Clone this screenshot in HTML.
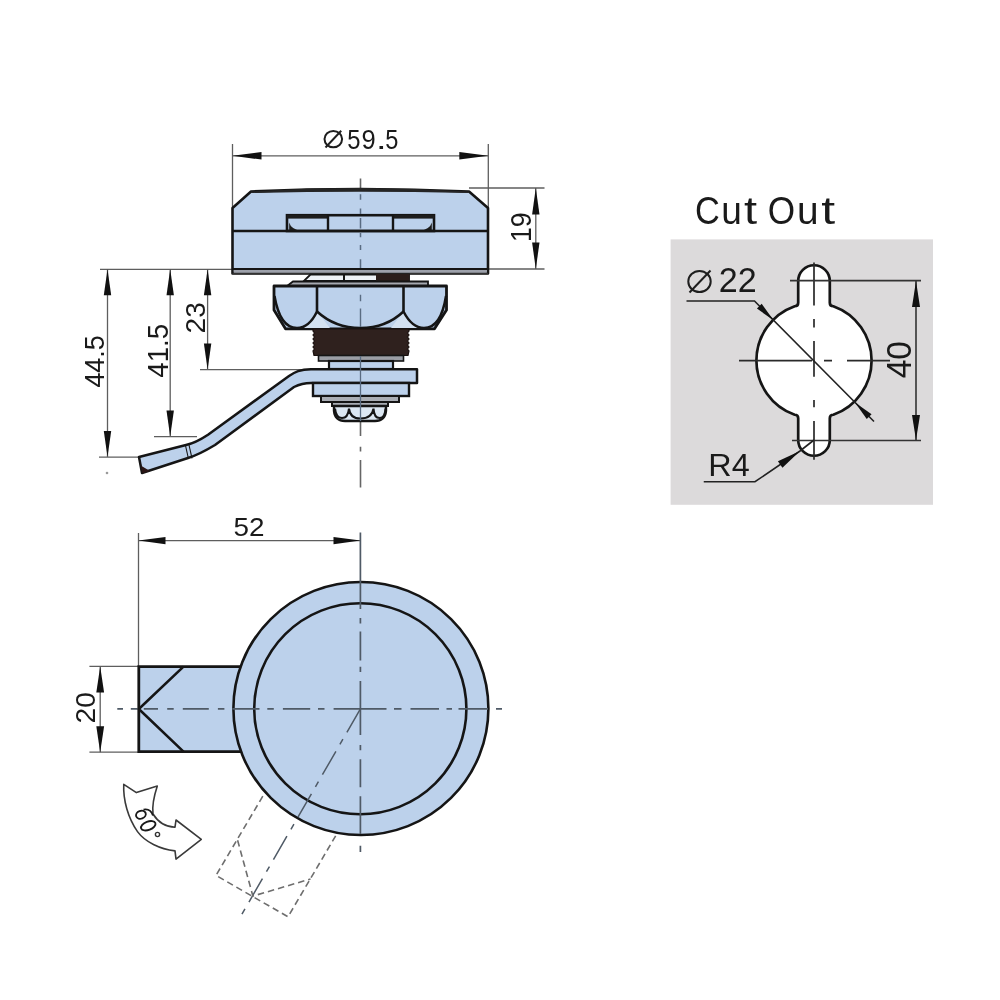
<!DOCTYPE html>
<html><head><meta charset="utf-8"><style>
html,body{margin:0;padding:0;background:#fff;width:1000px;height:1000px;overflow:hidden}
svg{display:block;will-change:transform}
text{font-family:"Liberation Sans", sans-serif}
</style></head><body>
<svg width="1000" height="1000" viewBox="0 0 1000 1000">
<line x1="232.50" y1="144.00" x2="232.50" y2="207.00" stroke="#5e5e5e" stroke-width="1.3" />
<line x1="488.30" y1="144.00" x2="488.30" y2="207.00" stroke="#5e5e5e" stroke-width="1.3" />
<line x1="232.50" y1="155.80" x2="488.00" y2="155.80" stroke="#5e5e5e" stroke-width="1.3" />
<polygon points="232.50,155.80 261.50,152.00 261.50,159.60" fill="#111"/>
<polygon points="488.30,155.80 459.30,159.60 459.30,152.00" fill="#111"/>
<ellipse cx="333.3" cy="139.1" rx="8.8" ry="8.2" fill="none" stroke="#1e1e1e" stroke-width="2.0"/>
<line x1="325.50" y1="147.50" x2="341.20" y2="130.80" stroke="#1e1e1e" stroke-width="2.0" />
<text font-size="100" fill="#1a1a1a" transform="matrix(0.23834,0,0,0.28377,347.3457,148.7229)">5</text>
<text font-size="100" fill="#1a1a1a" transform="matrix(0.25546,0,0,0.28377,361.5025,148.7229)">9</text>
<text font-size="100" fill="#1a1a1a" transform="matrix(0.37809,0,0,0.28377,375.9477,148.7229)">.</text>
<text font-size="100" fill="#1a1a1a" transform="matrix(0.23623,0,0,0.28377,385.2542,148.7229)">5</text>
<line x1="469.00" y1="188.00" x2="544.50" y2="188.00" stroke="#5e5e5e" stroke-width="1.3" />
<line x1="488.00" y1="269.00" x2="544.50" y2="269.00" stroke="#5e5e5e" stroke-width="1.3" />
<line x1="535.80" y1="188.00" x2="535.80" y2="269.00" stroke="#5e5e5e" stroke-width="1.3" />
<polygon points="535.80,188.00 539.50,214.50 532.10,214.50" fill="#111"/>
<polygon points="535.80,269.00 532.10,242.50 539.50,242.50" fill="#111"/>
<text font-size="100" fill="#1a1a1a" transform="matrix(0.00000,-0.26801,0.29661,0.00000,530.71034,242.04148)">19</text>
<line x1="100.00" y1="269.30" x2="232.00" y2="269.30" stroke="#5e5e5e" stroke-width="1.3" />
<line x1="107.50" y1="269.30" x2="107.50" y2="457.00" stroke="#5e5e5e" stroke-width="1.3" />
<polygon points="107.50,269.30 111.20,295.30 103.80,295.30" fill="#111"/>
<polygon points="107.50,457.00 103.80,431.00 111.20,431.00" fill="#111"/>
<line x1="170.20" y1="269.30" x2="170.20" y2="436.50" stroke="#5e5e5e" stroke-width="1.3" />
<polygon points="170.20,269.30 173.90,295.30 166.50,295.30" fill="#111"/>
<polygon points="170.20,436.50 166.50,410.50 173.90,410.50" fill="#111"/>
<line x1="207.60" y1="269.30" x2="207.60" y2="369.40" stroke="#5e5e5e" stroke-width="1.3" />
<polygon points="207.60,269.30 211.30,295.30 203.90,295.30" fill="#111"/>
<polygon points="207.60,369.40 203.90,343.40 211.30,343.40" fill="#111"/>
<line x1="99.00" y1="457.20" x2="140.00" y2="457.20" stroke="#5e5e5e" stroke-width="1.3" />
<line x1="154.00" y1="436.70" x2="197.00" y2="436.70" stroke="#5e5e5e" stroke-width="1.3" />
<line x1="200.00" y1="369.60" x2="312.00" y2="369.60" stroke="#5e5e5e" stroke-width="1.3" />
<text font-size="100" fill="#1a1a1a" transform="matrix(0.00000,-0.26896,0.28090,0.00000,103.72568,387.61723)">44.5</text>
<text font-size="100" fill="#1a1a1a" transform="matrix(0.00000,-0.27640,0.30097,0.00000,167.70609,377.63431)">41.5</text>
<text font-size="100" fill="#1a1a1a" transform="matrix(0.00000,-0.28092,0.27966,0.00000,205.12690,333.41285)">23</text>
<path d="M360.5,178.6V188 M360.5,446.8V451.6 M360.5,460V487.6 M360.5,421V436" stroke="#666" stroke-width="1.6" fill="none"/>
<path d="M232.5,208 L251,191.5 Q360,186.5 469,191.5 L488,208 L488,273.5 L232.5,273.5 Z" fill="#bcd1eb" stroke="#151515" stroke-width="2.6" stroke-linejoin="round"/>
<path d="M251,192.3 Q360,185.2 469,192.3 Q360,189.5 251,192.3 Z" fill="#252525" stroke="#252525" stroke-width="1.5"/>
<rect x="233.8" y="269" width="253" height="4.5" fill="#9da1ab"/>
<line x1="232.50" y1="269.00" x2="488.00" y2="269.00" stroke="#151515" stroke-width="2.2" />
<path d="M232.5,273.5 H488" stroke="#333" stroke-width="1.6"/>
<rect x="287" y="215.2" width="147" height="15.8" fill="#bcd1eb" stroke="#151515" stroke-width="2.6"/>
<rect x="287" y="215" width="41" height="3.6" fill="#1d1d1d"/>
<rect x="393" y="215" width="41" height="3.6" fill="#1d1d1d"/>
<line x1="328.00" y1="215.00" x2="328.00" y2="231.00" stroke="#151515" stroke-width="2.4" />
<line x1="393.00" y1="215.00" x2="393.00" y2="231.00" stroke="#151515" stroke-width="2.4" />
<path d="M289.2,222.5 Q291,229.5 302,231 L289.2,231 Z" fill="#1d1d1d"/>
<path d="M431.8,222.5 Q430,229.5 419,231 L431.8,231 Z" fill="#1d1d1d"/>
<line x1="232.50" y1="231.00" x2="488.00" y2="231.00" stroke="#151515" stroke-width="2.6" />
<path d="M360.5,194.3V199.8 M360.5,208.6V214 M360.5,218V228.4 M360.5,233V237.2 M360.5,245V250 M360.5,259.2V268" stroke="#5a6c82" stroke-width="1.5" fill="none"/>
<path d="M310.5,274.5 L409,274.5 L409,280.8 L304,280.8 Z" fill="#eef2f7" stroke="#151515" stroke-width="1.8"/>
<rect x="376" y="274" width="33.5" height="7" fill="#2b1e1b"/>
<line x1="344.00" y1="274.00" x2="344.00" y2="281.00" stroke="#151515" stroke-width="2" />
<path d="M293,281.5 L428,281.5 L428,286 L287,286 Z" fill="#a6a9b0" stroke="#151515" stroke-width="1.8"/>
<path d="M274,286 L446.5,286 L446.5,310 L434.5,328.8 L285.5,328.8 L274,310 Z" fill="#bcd1eb" stroke="#151515" stroke-width="2.8" stroke-linejoin="round"/>
<path d="M317,311.5 L304,328 L330,328 Z M403.5,311.5 L391,328 L417,328 Z" fill="#d3e1f1"/>
<path d="M274.5,296 Q280,328 297,328 Q309,328 317,311.5 Q335,328 360.5,328 Q386,328 403.5,311.5 Q412,328 424,328 Q441,328 446,296" fill="none" stroke="#151515" stroke-width="2.5" stroke-linejoin="round"/>
<line x1="317.00" y1="286.00" x2="317.00" y2="311.50" stroke="#151515" stroke-width="2.6" />
<line x1="403.50" y1="286.00" x2="403.50" y2="311.50" stroke="#151515" stroke-width="2.6" />
<path d="M360.5,294.8V301.2 M360.5,308.4V327" stroke="#5a6c82" stroke-width="1.4" fill="none"/>
<path d="M313,329 H409 V331 L407.5,333 L409,335 L407.5,337 L409,339 L407.5,341 L409,343 L407.5,345 L409,347 L407.5,349 L409,351 L408,355.5 H314 L313,351 L314.5,349 L313,347 L314.5,345 L313,343 L314.5,341 L313,339 L314.5,337 L313,335 L314.5,333 L313,331 Z" fill="#2f211e" stroke="#1a100e" stroke-width="1.2"/>
<rect x="318.5" y="355.5" width="85" height="5.5" fill="#9b9ea5" stroke="#151515" stroke-width="1.6"/>
<rect x="329" y="361" width="64" height="8" fill="#bcd1eb" stroke="#151515" stroke-width="2.2"/>
<path d="M417,369.2 L311,369.2 C300,369.2 295,372 289,376 L208,434.7 C200,440 195,443 186,445 L139,457 L142,473 L188,458 C198,455 205,451 215,445 L294,387 C300,384 305,383 311,383 L417,383 Z" fill="#bcd1eb" stroke="#151515" stroke-width="2.5" stroke-linejoin="round"/>
<line x1="185.50" y1="445.50" x2="188.50" y2="459.00" stroke="#151515" stroke-width="1.1" />
<line x1="189.00" y1="445.00" x2="192.00" y2="458.30" stroke="#151515" stroke-width="1.1" />
<path d="M139.6,458 L142.4,473.2 L150,471 L141.5,466 Z" fill="#2a1515"/>
<circle cx="107" cy="473" r="1.3" fill="#9a9a9a"/>
<rect x="313" y="383" width="96" height="13" fill="#bcd1eb" stroke="#151515" stroke-width="2.4"/>
<rect x="321" y="396" width="78" height="6" fill="#a9adb4" stroke="#151515" stroke-width="2"/>
<rect x="332" y="402" width="56" height="4" fill="#a9adb4" stroke="#151515" stroke-width="2"/>
<path d="M334,406 L386,406 L386,411 Q385,421 375,421 L345,421 Q335,421 334,411 Z" fill="#dce7f2" stroke="#151515" stroke-width="2.4"/>
<path d="M335,408.6 Q336,418 342,418 Q348,418 349,408.6 Q350,418.5 360.5,418.5 Q372,418.5 373.5,408.6 Q374,418 379.8,418 Q385,418 385.5,408.6" fill="none" stroke="#151515" stroke-width="2.1"/>
<line x1="360.50" y1="356.00" x2="360.50" y2="421.00" stroke="#5a6c82" stroke-width="1.3" />
<text font-size="100" fill="#1a1a1a" transform="matrix(0.34344,0,0,0.39194,695.0060,224.1172)">C</text>
<text font-size="100" fill="#1a1a1a" transform="matrix(0.37076,0,0,0.39194,721.3422,224.1172)">u</text>
<text font-size="100" fill="#1a1a1a" transform="matrix(0.46990,0,0,0.39194,744.0387,224.1172)">t</text>
<text font-size="100" fill="#1a1a1a" transform="matrix(0.35159,0,0,0.39194,767.8348,224.1172)">O</text>
<text font-size="100" fill="#1a1a1a" transform="matrix(0.38841,0,0,0.39194,796.9776,224.1172)">u</text>
<text font-size="100" fill="#1a1a1a" transform="matrix(0.49927,0,0,0.39194,821.2443,224.1172)">t</text>
<rect x="670.6" y="239.4" width="262.4" height="265.4" fill="#dcdadb"/>
<path d="M794.70,306.23 Q798.20,306.23 798.20,302.73 L798.20,281 A15.8,15.8 0 0 1 829.80,281 L829.80,302.73 Q829.80,306.23 833.30,306.23 A57.6,57.6 0 0 1 833.30,414.77 Q829.80,414.77 829.80,418.27 L829.80,440 A15.8,15.8 0 0 1 798.20,440 L798.20,418.27 Q798.20,414.77 794.70,414.77 A57.6,57.6 0 0 1 794.70,306.23 Z" fill="#ffffff" stroke="#151515" stroke-width="2.7"/>
<path d="M739,360.6H812 M824,360.6H832 M847,360.6H890" stroke="#2a2a2a" stroke-width="1.7" fill="none"/>
<path d="M814,262.4V305.4 M814,319V327.5 M814,341V376.8 M814,400V407.3 M814,421V459.8" stroke="#2a2a2a" stroke-width="1.7" fill="none"/>
<line x1="790.00" y1="280.60" x2="921.00" y2="280.60" stroke="#333" stroke-width="1.6" />
<line x1="792.00" y1="440.50" x2="921.00" y2="440.50" stroke="#333" stroke-width="1.6" />
<line x1="916.00" y1="281.00" x2="916.00" y2="440.00" stroke="#333" stroke-width="1.6" />
<polygon points="916.00,281.00 920.00,307.00 912.00,307.00" fill="#111"/>
<polygon points="916.00,440.00 912.00,415.00 920.00,415.00" fill="#111"/>
<text font-size="100" fill="#1a1a1a" transform="matrix(0.00000,-0.33514,0.35734,0.00000,910.95103,378.26913)">40</text>
<polyline points="686.5,301 754.5,301 874,421.5" fill="none" stroke="#222" stroke-width="1.6"/>
<polygon points="773.50,320.30 756.92,308.61 761.71,303.79" fill="#111"/>
<polygon points="855.00,402.50 871.55,414.24 866.74,419.05" fill="#111"/>
<ellipse cx="699.5" cy="281.5" rx="11.2" ry="10.5" fill="none" stroke="#1e1e1e" stroke-width="2.0"/>
<line x1="689.50" y1="292.50" x2="710.50" y2="270.50" stroke="#1e1e1e" stroke-width="2.0" />
<text font-size="100" fill="#1a1a1a" transform="matrix(0.34100,0.00000,0.00000,0.35088,718.78499,291.50000)">22</text>
<polyline points="703.75,481.75 755,481.75 800,451 814,440" fill="none" stroke="#222" stroke-width="1.6"/>
<polygon points="800.00,451.00 782.44,467.84 777.93,461.24" fill="#111"/>
<text font-size="100" fill="#1a1a1a" transform="matrix(0.32348,0.00000,0.00000,0.31614,708.34644,475.50000)">R4</text>
<line x1="138.50" y1="533.00" x2="138.50" y2="666.00" stroke="#5e5e5e" stroke-width="1.3" />
<line x1="138.50" y1="540.60" x2="360.50" y2="540.60" stroke="#5e5e5e" stroke-width="1.3" />
<polygon points="138.50,540.60 165.50,536.90 165.50,544.30" fill="#111"/>
<polygon points="360.50,540.60 333.50,544.30 333.50,536.90" fill="#111"/>
<text font-size="100" fill="#1a1a1a" transform="matrix(0.27887,0.00000,0.00000,0.26271,233.38342,536.34345)">52</text>
<line x1="89.40" y1="666.40" x2="138.50" y2="666.40" stroke="#5e5e5e" stroke-width="1.3" />
<line x1="89.40" y1="752.20" x2="138.50" y2="752.20" stroke="#5e5e5e" stroke-width="1.3" />
<line x1="100.20" y1="666.40" x2="100.20" y2="752.20" stroke="#5e5e5e" stroke-width="1.3" />
<polygon points="100.20,666.40 104.10,692.40 96.30,692.40" fill="#111"/>
<polygon points="100.20,752.20 96.30,726.20 104.10,726.20" fill="#111"/>
<text font-size="100" fill="#1a1a1a" transform="matrix(0.00000,-0.28154,0.27966,0.00000,95.12690,723.41594)">20</text>
<path d="M260,666.6 L138.8,666.6 L138.8,751.6 L260,751.6" fill="#bcd1eb" stroke="#151515" stroke-width="2.8"/>
<polyline points="183.5,666.6 138.8,709 183.5,751.6" fill="none" stroke="#151515" stroke-width="2.6"/>
<ellipse cx="360.9" cy="708.5" rx="127.5" ry="126.5" fill="#bcd1eb" stroke="#151515" stroke-width="2.6"/>
<ellipse cx="360.3" cy="708.75" rx="106.1" ry="105.5" fill="#bcd1eb" stroke="#151515" stroke-width="2.6"/>
<path d="M117.3,708.9H123 M130.8,708.9H137.3 M143.8,708.9H158 M167.2,708.9H173.7 M182.8,708.9H208.8 M217.9,708.9H224.4 M232.2,708.9H259.5 M267.3,708.9H273.8 M282.9,708.9H310.2 M318,708.9H324.5 M333.6,708.9H386.5 M394,708.9H401.5 M410.5,708.9H439 M446.5,708.9H452 M458.5,708.9H488 M496,708.9H502" stroke="#4f5a66" stroke-width="1.7" fill="none"/>
<path d="M360.4,532.6V609 M360.4,618V623.5 M360.4,631.6V660.4 M360.4,666.7V672 M360.4,681V735 M360.4,744.9V750.3 M360.4,759.3V787.2 M360.4,796.2V834 M360.4,845.7V852" stroke="#4f5a66" stroke-width="1.7" fill="none"/>
<path d="M360.40,708.90L346.91,732.29 M342.91,739.22L339.91,744.41 M335.91,751.34L322.42,774.73 M318.42,781.66L315.42,786.85 M311.42,793.78L297.93,817.17 M293.93,824.10L290.93,829.30 M286.93,836.22L273.44,859.61 M269.44,866.54L266.44,871.74 M262.44,878.67L248.95,902.05 M244.95,908.98L241.95,914.18" stroke="#4f5a66" stroke-width="1.5" fill="none"/>
<polyline points="262.8,796.2 216,875.4 288,916.8 335.7,835.8" fill="none" stroke="#6e6e6e" stroke-width="1.6" stroke-dasharray="6.5 4"/>
<polyline points="237.6,840.3 252.9,896.1 310.5,879" fill="none" stroke="#6e6e6e" stroke-width="1.6" stroke-dasharray="6.5 4"/>
<path d="M123.75,784.3 L136.4,792.6 L157.3,786 C154,796 152,806 153,814 C158,822 166,827 175,827.2 L176,820 L201.3,839.3 L176,859.1 L175,850.9 C160,849 145,842 137.5,831.6 C128,818 123,800 123.75,784.3 Z" fill="#fff" stroke="#3a3a3a" stroke-width="1.6" stroke-linejoin="round"/>
<ellipse cx="148.25" cy="825.75" rx="7.6" ry="4.1" transform="rotate(-21 148.25 825.75)" fill="none" stroke="#1a1a1a" stroke-width="1.9"/>
<ellipse cx="140.9" cy="814.7" rx="5.0" ry="3.9" transform="rotate(-21 140.9 814.7)" fill="none" stroke="#1a1a1a" stroke-width="1.9"/>
<path d="M143.5,809.6 Q150.5,808.2 153,815.5" fill="none" stroke="#1a1a1a" stroke-width="1.9"/>
<circle cx="157.5" cy="834.5" r="2.1" fill="none" stroke="#333" stroke-width="1.4"/>
</svg>
</body></html>
